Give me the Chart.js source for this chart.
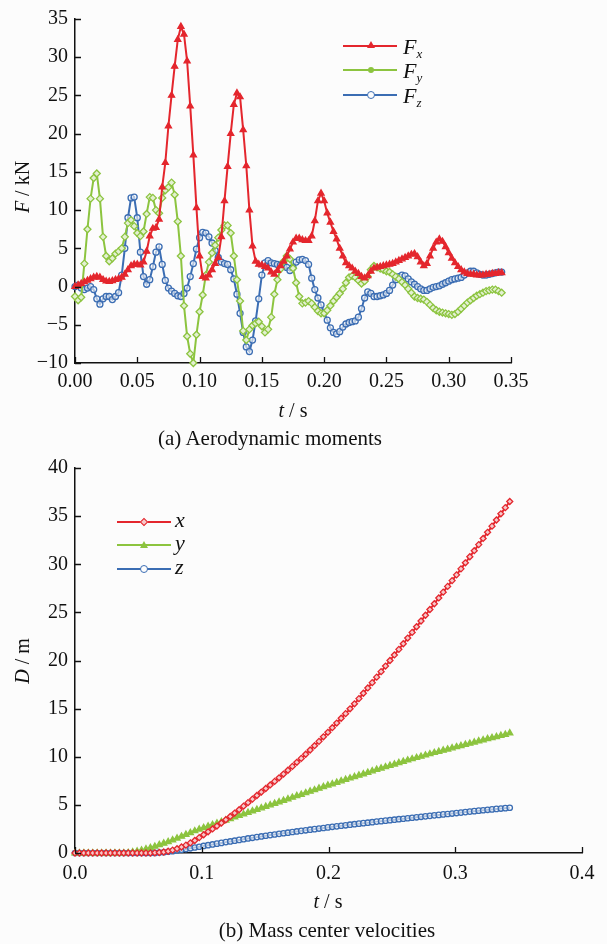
<!DOCTYPE html>
<html>
<head>
<meta charset="utf-8">
<script src="https://cdn.jsdelivr.net/npm/chart.js@4.4.0/dist/chart.umd.min.js"></script>
<style>
html, body { margin: 0; padding: 0; background: #fcfcfc; }
body { width: 607px; height: 944px; position: relative; overflow: hidden;
  font-family: "Liberation Serif", Tinos, "Times New Roman", "DejaVu Serif", serif; color: #111; }
canvas { position: absolute; left: 0; }
#top { top: 0; }
#bot { top: 444px; }
.c { position: absolute; font-size: 20px; line-height: 20px; white-space: nowrap; transform: translate(-50%, -50%); }
.cap { font-size: 21px; }
.r { transform: translate(-50%, -50%) rotate(-90deg); }
.lg { position: absolute; height: 2px; width: 54px; }
.lgt { position: absolute; font-size: 22px; line-height: 22px; font-style: italic; white-space: nowrap; }
.lgt sub { font-size: 13px; vertical-align: -4px; }
.mk { position: absolute; box-sizing: border-box; }
</style>
</head>
<body>
<canvas id="top" width="607" height="463"></canvas>
<canvas id="bot" width="607" height="500"></canvas>

<div class="c r" style="left:22px;top:187px"><i>F</i> / kN</div>
<div class="c" style="left:293px;top:410px"><i>t</i> / s</div>
<div class="c cap" style="left:270px;top:438px">(a) Aerodynamic moments</div>

<div class="c r" style="left:22px;top:661px"><i>D</i> / m</div>
<div class="c" style="left:328px;top:901px"><i>t</i> / s</div>
<div class="c cap" style="left:327px;top:930px">(b) Mass center velocities</div>

<!-- legend (a) -->
<div class="lg" style="left:343px;top:45px;background:#e4262d"></div>
<div class="mk" style="left:367px;top:41px;width:0;height:0;border-left:4px solid transparent;border-right:4px solid transparent;border-bottom:7px solid #e4262d"></div>
<div class="lgt" style="left:403px;top:36px">F<sub>x</sub></div>
<div class="lg" style="left:343px;top:69px;background:#8cc43f"></div>
<div class="mk" style="left:368px;top:67px;width:6px;height:6px;border-radius:3px;background:#8cc43f"></div>
<div class="lgt" style="left:403px;top:60px">F<sub>y</sub></div>
<div class="lg" style="left:343px;top:94px;background:#3b6db3"></div>
<div class="mk" style="left:367px;top:91px;width:8px;height:8px;border-radius:4px;border:1.5px solid #3b6db3;background:#fcfcfc"></div>
<div class="lgt" style="left:403px;top:85px">F<sub>z</sub></div>

<!-- legend (b) -->
<div class="lg" style="left:117px;top:521px;background:#e4262d"></div>
<div class="mk" style="left:141px;top:519px;width:6px;height:6px;transform:rotate(45deg);border:1.5px solid #e4262d;background:#f6c9cb"></div>
<div class="lgt" style="left:175px;top:509px">x</div>
<div class="lg" style="left:117px;top:544px;background:#8cc43f"></div>
<div class="mk" style="left:140px;top:541px;width:0;height:0;border-left:4px solid transparent;border-right:4px solid transparent;border-bottom:7px solid #8cc43f"></div>
<div class="lgt" style="left:175px;top:532px">y</div>
<div class="lg" style="left:117px;top:568px;background:#3b6db3"></div>
<div class="mk" style="left:140px;top:565px;width:8px;height:8px;border-radius:4px;border:1.5px solid #3b6db3;background:#fcfcfc"></div>
<div class="lgt" style="left:175px;top:556px">z</div>

<script>
// (a) forces, sampled every 0.0025 s
const tTop = [0,0.0025,0.005,0.0075,0.01,0.0125,0.015,0.0175,0.02,0.0225,
  0.025,0.0275,0.03,0.0325,0.035,0.0375,0.04,0.0425,0.045,0.0475,
  0.05,0.0525,0.055,0.0575,0.06,0.0625,0.065,0.0675,0.07,0.0725,
  0.075,0.0775,0.08,0.0825,0.085,0.0875,0.09,0.0925,0.095,0.0975,
  0.1,0.1025,0.105,0.1075,0.11,0.1125,0.115,0.1175,0.12,0.1225,
  0.125,0.1275,0.13,0.1325,0.135,0.1375,0.14,0.1425,0.145,0.1475,
  0.15,0.1525,0.155,0.1575,0.16,0.1625,0.165,0.1675,0.17,0.1725,
  0.175,0.1775,0.18,0.1825,0.185,0.1875,0.19,0.1925,0.195,0.1975,
  0.2,0.2025,0.205,0.2075,0.21,0.2125,0.215,0.2175,0.22,0.2225,
  0.225,0.2275,0.23,0.2325,0.235,0.2375,0.24,0.2425,0.245,0.2475,
  0.25,0.2525,0.255,0.2575,0.26,0.2625,0.265,0.2675,0.27,0.2725,
  0.275,0.2775,0.28,0.2825,0.285,0.2875,0.29,0.2925,0.295,0.2975,
  0.3,0.3025,0.305,0.3075,0.31,0.3125,0.315,0.3175,0.32,0.3225,
  0.325,0.3275,0.33,0.3325,0.335,0.3375,0.34,0.3425];

const fx = [0,0.2,0.4,0.6,0.8,1.0,1.2,1.3,1.2,0.9,
  0.7,0.65,0.75,0.9,1.0,1.2,1.6,2.2,2.7,2.9,
  2.9,2.8,3.2,4.6,6.6,7.6,7.7,8.8,13.0,16.2,
  21.0,25.0,28.8,32.3,34.0,33.0,29.5,23.6,17.2,10.3,
  4.0,1.3,1.1,1.5,2.2,3.0,3.8,6.5,11.2,15.7,
  20.0,23.8,25.3,24.8,20.5,15.8,10.0,5.3,3.3,2.9,
  2.8,2.6,2.4,1.9,1.6,2.1,2.7,3.3,4.0,4.9,
  5.8,6.3,6.3,6.1,6.0,6.0,6.6,8.6,11.2,12.2,
  11.2,9.6,8.4,7.2,6.2,5.0,4.0,3.1,2.7,2.4,
  2.0,1.7,1.3,1.1,1.4,2.0,2.4,2.5,2.6,2.7,
  2.8,2.9,3.0,3.2,3.4,3.6,3.8,4.0,4.2,4.3,
  3.9,3.2,2.7,3.0,4.0,5.0,5.8,6.2,5.9,5.2,
  4.4,3.7,3.1,2.6,2.2,1.9,1.7,1.6,1.6,1.5,
  1.5,1.5,1.6,1.6,1.7,1.7,1.8,1.8];

const fy = [-1.3,-1.8,-1.4,3.0,7.5,11.5,14.2,14.8,11.5,6.5,
  4.0,3.3,3.7,4.3,4.6,5.0,6.5,8.3,8.7,7.9,
  7.0,6.6,7.2,9.5,11.7,11.6,10.0,9.6,11.6,12.6,
  13.0,13.6,12.0,8.5,4.0,-2.5,-6.5,-8.8,-10.0,-6.3,
  -3.3,-1.1,1.5,3.2,4.4,5.4,6.4,7.4,8.0,8.0,
  7.0,4.0,0.9,-1.9,-5.8,-7.0,-5.6,-5.1,-4.8,-4.6,
  -5.2,-6.0,-5.6,-4.0,-1.0,0.9,2.3,3.3,4.0,3.6,
  2.4,0.5,-1.3,-2.2,-2.1,-1.9,-2.2,-2.7,-3.2,-3.5,
  -3.5,-3.1,-2.5,-1.9,-1.4,-0.9,-0.3,0.5,1.2,1.4,
  1.2,0.8,0.4,0.7,1.3,2.2,2.7,2.5,2.35,2.2,
  2.0,1.9,1.6,1.3,1.0,0.6,0.2,-0.3,-0.8,-1.3,
  -1.5,-1.6,-1.7,-2.0,-2.4,-2.8,-3.1,-3.3,-3.4,-3.5,
  -3.6,-3.7,-3.6,-3.3,-2.9,-2.5,-2.1,-1.8,-1.5,-1.2,
  -1.0,-0.8,-0.6,-0.5,-0.4,-0.4,-0.6,-0.8];

const fz = [0,0.2,-0.2,-0.4,-0.2,0.0,-0.4,-1.6,-2.3,-1.6,
  -1.3,-1.3,-1.7,-1.3,-0.8,1.5,5.0,9.0,11.6,11.7,
  9.0,4.5,1.3,0.3,0.9,2.6,4.5,5.2,2.9,0.8,
  -0.2,-0.6,-0.9,-1.2,-1.3,-0.9,-0.2,1.3,3.0,4.9,
  6.4,7.1,7.0,6.5,5.7,4.7,3.8,3.2,3.0,2.9,
  2.2,1.0,-1.0,-3.5,-6.0,-7.9,-8.5,-7.0,-4.5,-1.6,
  1.5,3.1,3.4,3.1,3.0,2.9,2.8,2.7,2.5,2.1,
  2.5,3.2,3.5,3.55,3.4,2.9,1.1,-0.4,-1.5,-2.4,
  -3.4,-4.4,-5.4,-6.0,-6.2,-5.9,-5.3,-4.9,-4.7,-4.6,
  -4.5,-4.0,-2.9,-1.5,-0.7,-0.9,-1.3,-1.3,-1.2,-1.1,
  -0.9,-0.5,0.2,0.9,1.3,1.5,1.4,1.0,0.6,0.3,
  0.0,-0.3,-0.5,-0.5,-0.3,-0.1,0.0,0.1,0.3,0.5,
  0.7,0.9,1.0,1.1,1.2,1.5,1.8,2.0,2.0,1.8,
  1.6,1.5,1.5,1.6,1.7,1.8,1.9,1.9];

// (b) displacements, sampled every 0.0035 s
const tBot = [0,0.0035,0.007,0.0105,0.014,0.0175,0.021,0.0245,0.028,0.0315,
  0.035,0.0385,0.042,0.0455,0.049,0.0525,0.056,0.0595,0.063,0.0665,
  0.07,0.0735,0.077,0.0805,0.084,0.0875,0.091,0.0945,0.098,0.1015,
  0.105,0.1085,0.112,0.1155,0.119,0.1225,0.126,0.1295,0.133,0.1365,
  0.14,0.1435,0.147,0.1505,0.154,0.1575,0.161,0.1645,0.168,0.1715,
  0.175,0.1785,0.182,0.1855,0.189,0.1925,0.196,0.1995,0.203,0.2065,
  0.21,0.2135,0.217,0.2205,0.224,0.2275,0.231,0.2345,0.238,0.2415,
  0.245,0.2485,0.252,0.2555,0.259,0.2625,0.266,0.2695,0.273,0.2765,
  0.28,0.2835,0.287,0.2905,0.294,0.2975,0.301,0.3045,0.308,0.3115,
  0.315,0.3185,0.322,0.3255,0.329,0.3325,0.336,0.3395,0.343];

const dx = [0,0,0,0,0,0,0,0,0,0,
  0,0,0,0,0,0,0,0,0.02,0.05,
  0.1,0.18,0.3,0.45,0.62,0.82,1.05,1.3,1.6,1.9,
  2.2,2.5,2.8,3.12,3.45,3.8,4.15,4.5,4.87,5.23,
  5.6,5.97,6.33,6.7,7.07,7.44,7.81,8.2,8.6,9.0,
  9.42,9.83,10.26,10.7,11.15,11.6,12.07,12.54,13.02,13.5,
  14.0,14.48,14.98,15.5,16.04,16.6,17.15,17.7,18.27,18.84,
  19.42,20.0,20.58,21.16,21.74,22.33,22.92,23.51,24.1,24.7,
  25.3,25.9,26.5,27.1,27.7,28.3,28.9,29.52,30.15,30.78,
  31.41,32.04,32.68,33.32,33.96,34.6,35.24,35.88,36.52];

const dy = [0,0,0,0,0,0,0,0,0,0,
  0,0,0.03,0.1,0.18,0.28,0.4,0.53,0.68,0.84,
  1.0,1.17,1.35,1.53,1.72,1.91,2.1,2.29,2.46,2.62,
  2.78,2.93,3.09,3.25,3.4,3.56,3.72,3.88,4.03,4.19,
  4.35,4.51,4.67,4.82,4.98,5.14,5.3,5.45,5.61,5.77,
  5.93,6.08,6.24,6.4,6.55,6.71,6.87,7.03,7.17,7.32,
  7.47,7.62,7.77,7.92,8.06,8.21,8.36,8.51,8.66,8.8,
  8.94,9.08,9.22,9.36,9.5,9.64,9.77,9.9,10.03,10.16,
  10.29,10.42,10.54,10.66,10.78,10.9,11.02,11.14,11.26,11.38,
  11.5,11.62,11.74,11.86,11.97,12.08,12.19,12.3,12.45];

const dz = [0,0,0,0,0,0,0,0,0,0,
  0,0,0,0,0,0,0,0,0.01,0.04,
  0.08,0.13,0.19,0.26,0.33,0.41,0.49,0.57,0.65,0.73,
  0.81,0.89,0.97,1.05,1.13,1.2,1.28,1.36,1.43,1.51,
  1.58,1.65,1.72,1.79,1.86,1.92,1.99,2.05,2.11,2.18,
  2.24,2.3,2.36,2.42,2.48,2.54,2.6,2.66,2.72,2.77,
  2.83,2.88,2.94,2.99,3.05,3.1,3.15,3.2,3.26,3.31,
  3.36,3.41,3.46,3.51,3.56,3.61,3.66,3.71,3.76,3.81,
  3.86,3.91,3.96,4.01,4.05,4.1,4.15,4.2,4.25,4.3,
  4.35,4.4,4.44,4.49,4.53,4.58,4.62,4.66,4.7];

const RED = '#e4262d', GREEN = '#8cc43f', BLUE = '#3b6db3';
const FONT = { family: '"Liberation Serif", Tinos, "Times New Roman", "DejaVu Serif", serif', size: 20 };

const pts = (ts, vs) => ts.map((t, i) => ({ x: t, y: vs[i] }));
const minus = v => v < 0 ? '\u2212' + Math.abs(v) : '' + v;

// short ticks drawn inside the plot, like the original figure
const inTicks = {
  id: 'inTicks',
  afterDraw(chart) {
    const { ctx, chartArea: a, scales: { x, y } } = chart;
    ctx.save();
    ctx.strokeStyle = '#111';
    ctx.lineWidth = 1.3;
    ctx.beginPath();
    x.ticks.forEach(t => {
      const px = Math.round(x.getPixelForValue(t.value)) + 0.5;
      ctx.moveTo(px, a.bottom); ctx.lineTo(px, a.bottom - 6);
    });
    y.ticks.forEach(t => {
      const py = Math.round(y.getPixelForValue(t.value)) + 0.5;
      ctx.moveTo(a.left, py); ctx.lineTo(a.left + 6, py);
    });
    ctx.stroke();
    ctx.restore();
  }
};

function line(label, data, color, style, radius, fill) {
  return {
    label, data,
    borderColor: color, borderWidth: 2,
    pointStyle: style, pointRadius: radius,
    pointBorderColor: color, pointBorderWidth: 1.3,
    pointBackgroundColor: fill,
    tension: 0, clip: 8
  };
}

function axes(xmax, xstep, xdec, ymin, ymax, xh, xpad) {
  return {
    x: {
      type: 'linear', min: 0, max: xmax,
      grid: { display: false, drawTicks: false },
      border: { display: true, color: '#111', width: 1.5 },
      ticks: { stepSize: xstep, color: '#111', font: FONT, padding: xpad, maxRotation: 0,
        callback: v => v.toFixed(xdec) },
      afterFit: s => { s.height = xh; }
    },
    y: {
      min: ymin, max: ymax,
      grid: { display: false, drawTicks: false },
      border: { display: true, color: '#111', width: 1.5 },
      ticks: { stepSize: 5, color: '#111', font: FONT, padding: 7, callback: minus },
      afterFit: s => { s.width = 75; }
    }
  };
}

function draw() {
  new Chart(document.getElementById('top'), {
    type: 'line',
    data: { datasets: [
      line('Fx', pts(tTop, fx), RED, 'triangle', 3.5, RED),
      line('Fy', pts(tTop, fy), GREEN, 'rectRot', 3.5, '#e3f0d2'),
      line('Fz', pts(tTop, fz), BLUE, 'circle', 3, 'rgba(252,252,252,0.6)')
    ] },
    options: {
      responsive: false, animation: false,
      layout: { padding: { left: 0, top: 12, right: 96, bottom: 0 } },
      plugins: { legend: { display: false }, tooltip: { enabled: false } },
      scales: axes(0.35, 0.05, 2, -10, 35, 100, 7)
    },
    plugins: [inTicks]
  });

  new Chart(document.getElementById('bot'), {
    type: 'line',
    data: { datasets: [
      line('x', pts(tBot, dx), RED, 'rectRot', 3, '#f6c9cb'),
      line('y', pts(tBot, dy), GREEN, 'triangle', 3.5, GREEN),
      line('z', pts(tBot, dz), BLUE, 'circle', 2.7, 'rgba(252,252,252,0.6)')
    ] },
    options: {
      responsive: false, animation: false,
      layout: { padding: { left: 0, top: 24, right: 25, bottom: 0 } },
      plugins: { legend: { display: false }, tooltip: { enabled: false } },
      scales: axes(0.4, 0.1, 1, 0, 40, 91, 9)
    },
    plugins: [inTicks]
  });
}

if (document.fonts && document.fonts.load) {
  document.fonts.load('20px "Liberation Serif"').then(draw, draw);
} else {
  draw();
}
</script>
</body>
</html>
